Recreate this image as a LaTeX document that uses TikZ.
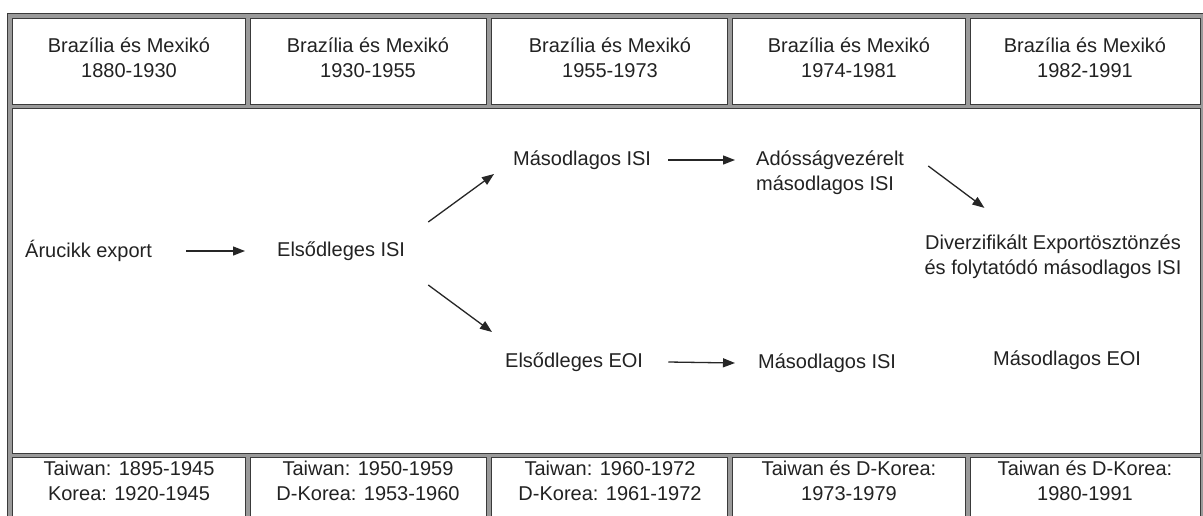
\documentclass[tikz,border=0pt]{standalone}
\usepackage{fontspec}
\setmainfont{Liberation Sans}
\usetikzlibrary{arrows.meta}
\definecolor{bandgray}{HTML}{9A9A9A}
\definecolor{linedark}{HTML}{3A3A3A}
\definecolor{txt}{HTML}{222222}
\tikzset{
  cell/.style={fill=white,draw=linedark,line width=1pt},
  lbl/.style={inner sep=0pt,text=txt,font=\fontsize{20}{25}\selectfont},
  clbl/.style={lbl,align=center},
  arr/.style={draw=black!85,line width=1.3pt,-{Triangle[length=12pt,width=9pt]}}
}
\begin{document}
\begin{tikzpicture}[x=1pt,y=-1pt]
\clip (0,0) rectangle (1203,515);
\fill[white] (0,0) rectangle (1203,515);
% frame
\fill[bandgray] (7,13) rectangle (1215,530);
\draw[linedark,line width=1.2pt] (7.6,530) -- (7.6,13.6) -- (1215,13.6);
% header cells
\foreach \a/\b in {12/246,250/487,491/728,732/966,970/1201}{
  \draw[cell] (\a+0.5,18.5) rectangle (\b-0.5,104.5);
  \draw[cell] (\a+0.5,457.5) rectangle (\b-0.5,535);
}
\draw[cell] (12.5,108.5) rectangle (1200.5,453.5);
% header texts
\node[clbl] (h1) at (129,58) {Brazília és Mexikó\\1880-1930};
\node[clbl] (h2) at (368,58) {Brazília és Mexikó\\1930-1955};
\node[clbl] (h3) at (610,58) {Brazília és Mexikó\\1955-1973};
\node[clbl] (h4) at (849,58) {Brazília és Mexikó\\1974-1981};
\node[clbl] (h5) at (1085,58) {Brazília és Mexikó\\1982-1991};
% bottom texts
\node[clbl] (t1) at (129,481) {Taiwan: 1895-1945\\Korea: 1920-1945};
\node[clbl] (t2) at (368,481) {Taiwan: 1950-1959\\D-Korea: 1953-1960};
\node[clbl] (t3) at (610,481) {Taiwan: 1960-1972\\D-Korea: 1961-1972};
\node[clbl] (t4) at (849,481) {Taiwan és D-Korea:\\1973-1979};
\node[clbl] (t5) at (1085,481) {Taiwan és D-Korea:\\1980-1991};
% middle texts
\node[lbl,anchor=west] (a) at (25,251) {Árucikk export};
\node[lbl,anchor=west] (b) at (277,251) {Elsődleges ISI};
\node[lbl,anchor=west] (c) at (513,160) {Másodlagos ISI};
\node[lbl,anchor=west,align=left] (d) at (756,173) {Adósságvezérelt\\másodlagos ISI};
\node[clbl] (e) at (1053,257) {Diverzifikált Exportösztönzés\\és folytatódó másodlagos ISI};
\node[lbl,anchor=west] (f) at (505,362) {Elsődleges EOI};
\node[lbl,anchor=west] (g) at (758,363) {Másodlagos ISI};
\node[lbl,anchor=west] (h) at (993,360) {Másodlagos EOI};
% arrows
\draw[arr] ([xshift=34pt]a.east) -- ([xshift=-32pt]b.west);
\draw[arr] ([xshift=23pt,yshift=29pt]b.east) -- ([xshift=-19pt,yshift=-14pt]c.west);
\draw[arr] ([xshift=23pt,yshift=-34pt]b.east) -- ([xshift=-13pt,yshift=30pt]f.west);
\draw[arr] ([xshift=17pt]c.east) -- ([xshift=-21pt,yshift=13pt]d.west);
\draw[arr] ([xshift=24pt,yshift=7pt]d.east) -- ([xshift=60pt,yshift=27pt]e.north west);
\draw[arr] ([xshift=25pt]f.east) -- ([xshift=-23pt]g.west);
\end{tikzpicture}
\end{document}
